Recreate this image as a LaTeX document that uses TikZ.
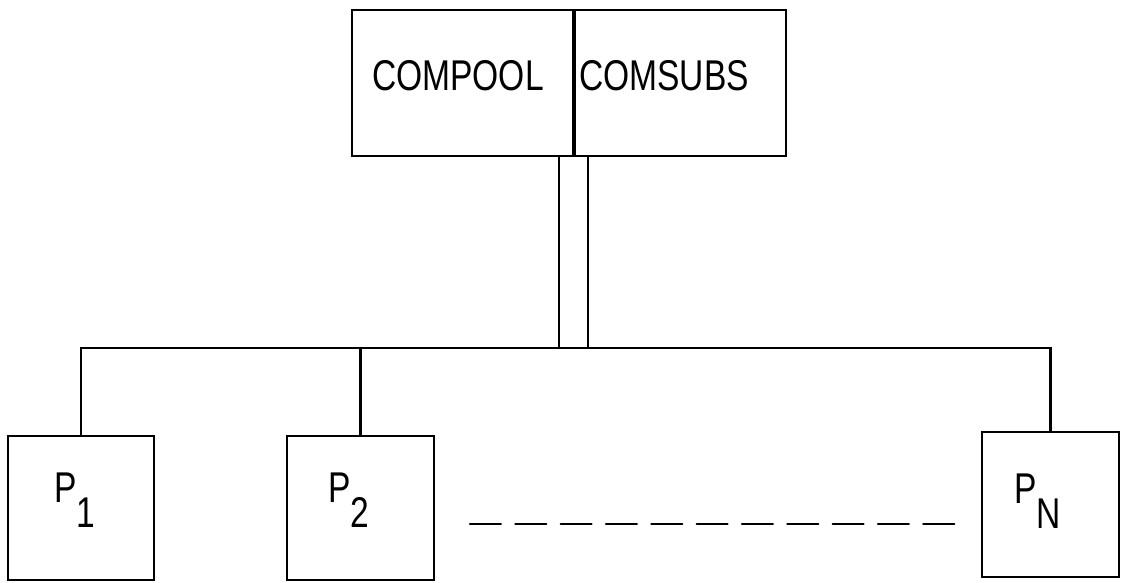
\documentclass[tikz,border=0pt]{standalone}
\usepackage{fontspec}
\setmainfont{Liberation Sans}[FakeStretch=0.78]
\usetikzlibrary{positioning, calc}

% program label with a lowered index
\newcommand{\psub}[1]{P\raisebox{-0.5cm}{#1}}

\begin{document}
\begin{tikzpicture}[x=0.02cm, y=-0.02cm, line cap=round, line width=1.3pt,
    font=\fontsize{24.5}{28}\selectfont,
    box/.style={draw, inner sep=0pt},
    txt/.style={anchor=base west, inner sep=0pt}]
  \useasboundingbox (0,0) rectangle (1122,582);
  % common pool and subroutines
  \node[box, minimum width=4.42cm, minimum height=2.92cm] (pool) at (462.5,83) {};
  \node[box, minimum width=4.22cm, minimum height=2.92cm, anchor=west] (subs) at (pool.east) {};
  \node[txt] (pooltxt) at (371,90) {COMPOOL};
  \node[txt] (substxt) at (578,90) {COMSUBS};
  % programs
  \node[box, minimum width=2.92cm, minimum height=2.88cm] (p1) at (81,508) {};
  \node[box, minimum width=2.94cm, minimum height=2.88cm] (p2) at (360.5,508) {};
  \node[box, minimum width=2.74cm, minimum height=2.9cm] (pn) at (1050.5,504.5) {};
  \node[txt] (p1txt) at (53,502) {\psub{1}};
  \node[txt] (p2txt) at (327,502) {\psub{2}};
  \node[txt] (pntxt) at (1013,503) {\psub{N}};
  % bus
  \coordinate (bus) at (0,348);
  \coordinate (linkL) at ($(pool.south east)+(-15,0)$);
  \coordinate (linkR) at ($(pool.south east)+(14,0)$);
  \draw (linkL) -- (linkL |- bus);
  \draw (linkR) -- (linkR |- bus);
  \draw (p1.north) |- (bus -| pn.north) -- (pn.north);
  \draw (p2.north) -- (p2.north |- bus);
  \coordinate (dashL) at (470,524);
  \coordinate (dashR) at (955,524);
  \draw[dash pattern=on 17.6pt off 8.2pt] (dashL) -- (dashR);
\end{tikzpicture}
\end{document}
